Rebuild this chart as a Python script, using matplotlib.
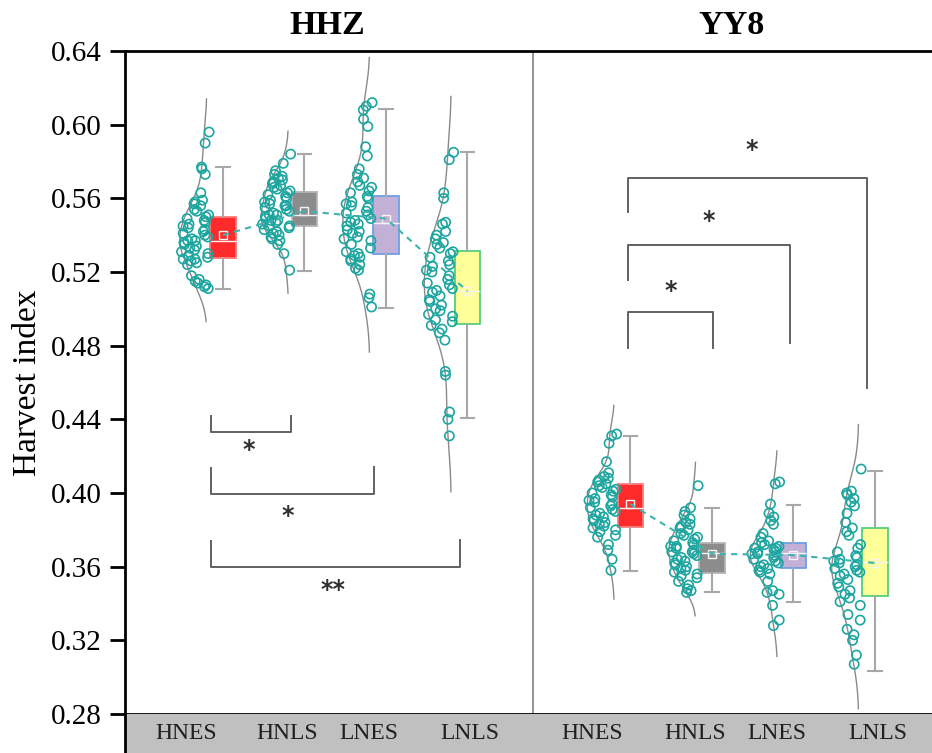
import numpy as np
import matplotlib
matplotlib.use("Agg")
import matplotlib.pyplot as plt

plt.rcParams["font.family"] = ["Liberation Serif", "DejaVu Serif"]

# %% data

panels = ["HHZ", "YY8"]
groups = ["HNES", "HNLS", "LNES", "LNLS"]

hhz_hnes = [0.596, 0.590, 0.577, 0.576, 0.573, 0.563, 0.559, 0.558, 0.557, 0.556,
            0.554, 0.553, 0.551, 0.550, 0.549, 0.548, 0.547, 0.546, 0.545, 0.544,
            0.543, 0.542, 0.541, 0.540, 0.539, 0.538, 0.537, 0.537, 0.536, 0.535,
            0.534, 0.533, 0.532, 0.531, 0.530, 0.529, 0.528, 0.527, 0.527, 0.526,
            0.525, 0.524, 0.518, 0.516, 0.515, 0.514, 0.513, 0.512, 0.511]
hhz_hnls = [0.584, 0.579, 0.575, 0.573, 0.572, 0.571, 0.570, 0.569, 0.568, 0.567,
            0.566, 0.565, 0.564, 0.563, 0.562, 0.561, 0.560, 0.559, 0.558, 0.557,
            0.556, 0.556, 0.555, 0.554, 0.553, 0.552, 0.551, 0.551, 0.550, 0.549,
            0.548, 0.548, 0.547, 0.546, 0.545, 0.545, 0.544, 0.543, 0.542, 0.541,
            0.540, 0.539, 0.538, 0.537, 0.535, 0.530, 0.521]
hhz_lnes = [0.612, 0.610, 0.608, 0.603, 0.599, 0.588, 0.583, 0.576, 0.573, 0.571,
            0.569, 0.567, 0.566, 0.564, 0.563, 0.561, 0.560, 0.558, 0.557, 0.556,
            0.555, 0.553, 0.552, 0.551, 0.549, 0.548, 0.547, 0.546, 0.545, 0.543,
            0.542, 0.541, 0.539, 0.538, 0.537, 0.535, 0.533, 0.531, 0.530, 0.529,
            0.528, 0.527, 0.526, 0.524, 0.522, 0.521, 0.508, 0.506, 0.501]
hhz_lnls = [0.585, 0.581, 0.563, 0.560, 0.547, 0.546, 0.542, 0.540, 0.538, 0.536,
            0.535, 0.533, 0.531, 0.530, 0.528, 0.526, 0.524, 0.523, 0.521, 0.520,
            0.518, 0.516, 0.514, 0.513, 0.511, 0.510, 0.509, 0.507, 0.505, 0.504,
            0.502, 0.500, 0.499, 0.497, 0.496, 0.494, 0.493, 0.491, 0.489, 0.487,
            0.483, 0.466, 0.464, 0.444, 0.440, 0.431]

yy8_hnes = [0.432, 0.431, 0.427, 0.417, 0.411, 0.409, 0.408, 0.407, 0.406, 0.405,
            0.404, 0.403, 0.402, 0.401, 0.400, 0.399, 0.398, 0.397, 0.396, 0.395,
            0.394, 0.393, 0.392, 0.391, 0.390, 0.389, 0.388, 0.387, 0.386, 0.385,
            0.384, 0.383, 0.382, 0.381, 0.380, 0.379, 0.377, 0.376, 0.372, 0.369,
            0.364, 0.358]
yy8_hnls = [0.404, 0.392, 0.390, 0.388, 0.386, 0.384, 0.383, 0.382, 0.381, 0.380,
            0.378, 0.377, 0.376, 0.375, 0.374, 0.373, 0.372, 0.371, 0.371, 0.370,
            0.369, 0.368, 0.368, 0.367, 0.366, 0.365, 0.364, 0.363, 0.362, 0.361,
            0.360, 0.359, 0.358, 0.357, 0.356, 0.355, 0.354, 0.352, 0.350, 0.348,
            0.347, 0.346]
yy8_lnes = [0.406, 0.405, 0.394, 0.389, 0.387, 0.385, 0.383, 0.378, 0.376, 0.374,
            0.373, 0.372, 0.371, 0.370, 0.370, 0.369, 0.368, 0.368, 0.367, 0.367,
            0.366, 0.365, 0.364, 0.363, 0.362, 0.361, 0.360, 0.359, 0.358, 0.357,
            0.356, 0.352, 0.347, 0.346, 0.345, 0.339, 0.331, 0.328]
yy8_lnls = [0.413, 0.401, 0.400, 0.399, 0.397, 0.395, 0.393, 0.389, 0.384, 0.381,
            0.379, 0.377, 0.372, 0.370, 0.368, 0.366, 0.365, 0.364, 0.363, 0.362,
            0.361, 0.360, 0.359, 0.358, 0.357, 0.356, 0.355, 0.353, 0.351, 0.349,
            0.347, 0.345, 0.343, 0.341, 0.339, 0.334, 0.331, 0.326, 0.323, 0.320,
            0.312, 0.307]

# box stats: whisker low, Q1, median, Q3, whisker high, mean
hhz_box = [[0.511, 0.5275, 0.5367, 0.5497, 0.577, 0.540],
           [0.5204, 0.545, 0.5508, 0.5633, 0.584, 0.553],
           [0.5003, 0.5297, 0.5465, 0.5611, 0.6084, 0.549],
           [0.4406, 0.4917, 0.5096, 0.5313, 0.585, 0.5096]]
yy8_box = [[0.3576, 0.3815, 0.3918, 0.4048, 0.4309, 0.394],
           [0.3462, 0.3565, 0.3674, 0.3728, 0.3918, 0.367],
           [0.3408, 0.3592, 0.3673, 0.3728, 0.3934, 0.3663],
           [0.3033, 0.344, 0.3625, 0.381, 0.4119, 0.362]]

# %% styles

face = ["#ff2a2a", "#8c8c8c", "#c2b0d6", "#ffff99"]
edge = ["#ff7a7a", "#b4b4b4", "#6e9fe6", "#50d07c"]
teal = "#1da5a0"

fig = plt.figure(figsize=(9.32, 7.53), dpi=100)
ax = fig.add_axes([125 / 932, 39 / 753, 815 / 932, 663 / 753])
ax.set_xlim(-0.2025, 9.798)
ax.set_ylim(0.28, 0.64)

all_vals = [[hhz_hnes, hhz_hnls, hhz_lnes, hhz_lnls],
            [yy8_hnes, yy8_hnls, yy8_lnes, yy8_lnls]]
all_box = [hhz_box, yy8_box]
golden = 0.6180339887

for p in range(2):
    positions = [1 + 5 * p + i for i in range(4)]
    stats = []
    for b in all_box[p]:
        stats.append(dict(whislo=b[0], q1=b[1], med=b[2], q3=b[3], whishi=b[4],
                          mean=b[5], fliers=[]))
    bp = ax.bxp(stats, positions=positions, widths=0.31, patch_artist=True,
                showmeans=True, showfliers=False,
                medianprops=dict(color="#f4f4f4", lw=1.0),
                whiskerprops=dict(color="#a8a8a8", lw=1.5),
                capprops=dict(color="#a8a8a8", lw=1.5),
                meanprops=dict(marker="s", markerfacecolor="none",
                               markeredgecolor="#f4f4f4", markersize=6,
                               markeredgewidth=1.0),
                manage_ticks=False)
    for i, patch in enumerate(bp["boxes"]):
        patch.set_facecolor(face[i])
        patch.set_edgecolor(edge[i])
        patch.set_linewidth(1.3)
    for cap in bp["caps"]:
        c = np.mean(cap.get_xdata())
        cap.set_xdata([c - 0.085, c + 0.085])

    # dashed line through the means
    means = [b[5] for b in all_box[p]]
    ax.plot(positions, means, ls=(0, (3, 2.5)), color="#3bb3ae", lw=1.5, zorder=4)

    # half violins and points
    for i, vals in enumerate(all_vals[p]):
        v = np.array(vals)
        pos = positions[i]
        bw = v.std(ddof=1) * len(v) ** -0.2
        grid = np.linspace(v.min() - 2.0 * bw, v.max() + 2.0 * bw, 200)
        dens = np.exp(-0.5 * ((grid[:, None] - v[None, :]) / bw) ** 2).sum(axis=1)
        width = dens / dens.max() * 0.33
        base = pos - 0.2
        ax.plot(base - width, grid, color="#8a8a8a", lw=1.0, zorder=2)
        xs = np.empty(len(v))
        for k in range(len(v)):
            w = np.interp(v[k], grid, width)
            frac = (k * k * golden * 0.5 + k * 0.377) % 1.0
            xs[k] = base + 0.03 - frac * (w * 1.05 + 0.03)
        ax.scatter(xs, v, s=44, facecolors="none", edgecolors=teal,
                   linewidths=1.2, zorder=3)

# significance brackets: x left, x right, y bar, y tip left, y tip right, label, label x, label y
brackets = [
    (0.853, 1.838, 0.4331, 0.4417, 0.4417, "*", 1.31, 0.4249),
    (0.853, 2.856, 0.3994, 0.4135, 0.4140, "*", 1.80, 0.3891),
    (0.853, 3.908, 0.3598, 0.3739, 0.3745, "**", 2.35, 0.3489),
    (5.969, 7.012, 0.4982, 0.4786, 0.4786, "*", 6.497, 0.5116),
    (5.969, 7.957, 0.5345, 0.5156, 0.4814, "*", 6.963, 0.5496),
    (5.969, 8.902, 0.5709, 0.5525, 0.4569, "*", 7.491, 0.5881),
]
for x0, x1, yb, yl, yr, txt, tx, ty in brackets:
    ax.plot([x0, x0, x1, x1], [yl, yb, yb, yr], color="#606060", lw=1.4, zorder=2)
    ax.text(tx, ty - 0.0018, txt, ha="center", va="center", fontsize=17,
            color="#303030", family="DejaVu Sans", fontweight="bold")

# divider between the two cultivars
ax.axvline(4.8, color="#808080", lw=1.2, zorder=1)

# titles
for name, xpos in zip(panels, [2.276, 7.245]):
    ax.text(xpos, 1.038, name, transform=ax.get_xaxis_transform(), ha="center",
            va="center", fontsize=24.5, fontweight="bold")

ax.set_yticks(np.arange(0.28, 0.641, 0.04))
ax.set_yticklabels([f"{t:.2f}" for t in np.arange(0.28, 0.641, 0.04)])
ax.tick_params(axis="y", length=11, width=2, labelsize=21, pad=6)
ax.set_xticks([])
ax.set_ylabel("Harvest index", fontsize=24, labelpad=5)
for s in ["left", "top", "bottom"]:
    ax.spines[s].set_linewidth(2)
ax.spines["right"].set_visible(False)

# grey category band under the plot
band = fig.add_axes([125 / 932, 0, 815 / 932, 39 / 753], sharex=ax)
band.set_facecolor("#c0c0c0")
band.set_ylim(0, 1)
band.set_yticks([])
band.tick_params(axis="x", length=0, labelbottom=False)
for s in ["right", "bottom", "top"]:
    band.spines[s].set_visible(False)
band.spines["left"].set_linewidth(2)
label_x = [0.546, 1.785, 2.79, 4.03, 5.53, 6.79, 7.80, 9.04]
for lx, lab in zip(label_x, groups * 2):
    band.text(lx, 0.5, lab, ha="center", va="center", fontsize=17, color="#202020")

fig.savefig("out.png", dpi=100)
